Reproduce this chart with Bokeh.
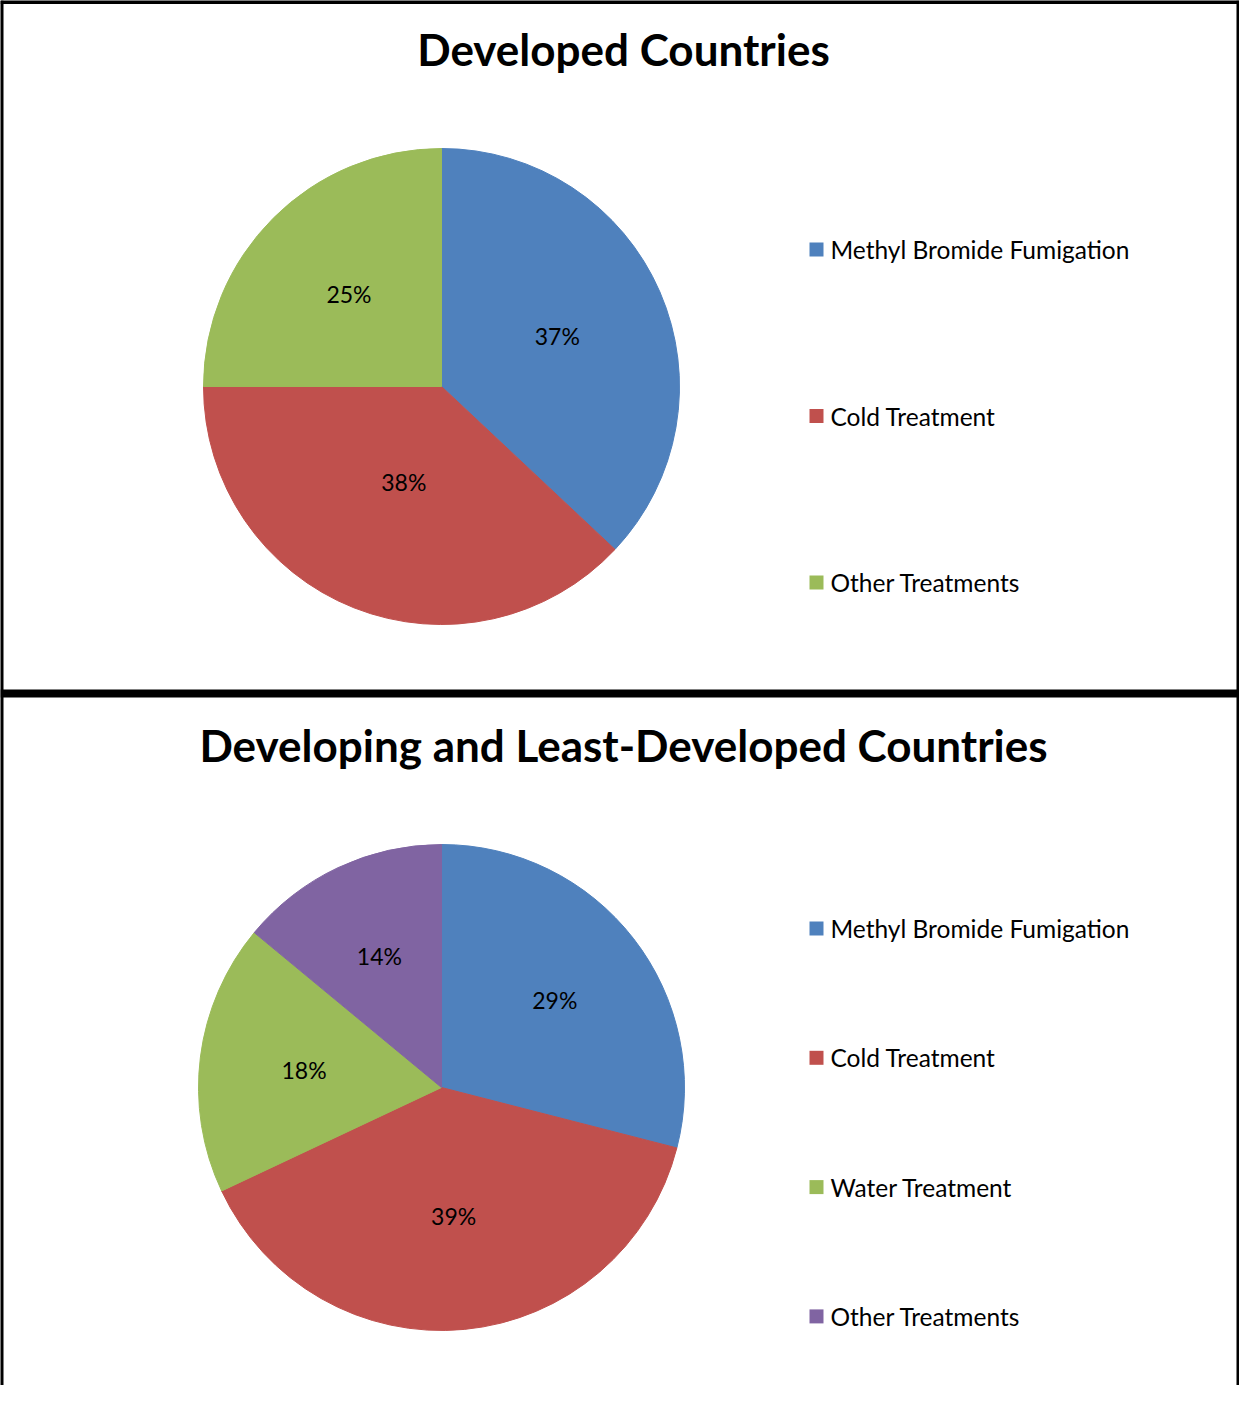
import math
from bokeh.plotting import figure
from bokeh.models import Range1d, ColumnDataSource
from bokeh.core.properties import value
from bokeh.embed import file_html
from bokeh.resources import INLINE

# ---------------- data ----------------
title1 = "Developed Countries"
cats1 = ["Methyl Bromide Fumigation", "Cold Treatment", "Other Treatments"]
vals1 = [37, 38, 25]

title2 = "Developing and Least-Developed Countries"
cats2 = ["Methyl Bromide Fumigation", "Cold Treatment", "Water Treatment", "Other Treatments"]
vals2 = [29, 39, 18, 14]

colors1 = ["#4F81BD", "#C0504D", "#9BBB59"]
colors2 = ["#4F81BD", "#C0504D", "#9BBB59", "#8064A2"]

# label distance from centre, as a fraction of the radius (layout only)
lab_frac1 = [0.53, 0.43, 0.55]
lab_frac2 = [0.59, 0.53, 0.57, 0.60]

# ---------------- layout (page pixel coords of the reference) ----------------
PAGE_H = 1401
W, H = 1239, 1385
FONT = "Lato"


def fy(ry):
    return PAGE_H - ry


p = figure(width=W, height=H, output_backend="svg", toolbar_location=None,
           x_range=Range1d(8, 8 + W), y_range=Range1d(fy(8 + H), fy(8)),
           min_border=0, x_axis_location=None, y_axis_location=None,
           tools="")
p.grid.visible = False
p.outline_line_color = None
p.background_fill_color = "white"
p.border_fill_color = "white"

# panel borders
p.line(x=[9, 9], y=[fy(8), fy(1401)], line_color="black", line_width=4)
p.line(x=[1246, 1246], y=[fy(8), fy(1401)], line_color="black", line_width=4)
p.line(x=[8, 1247], y=[fy(9.5), fy(9.5)], line_color="black", line_width=4)
p.line(x=[8, 1247], y=[fy(701), fy(701)], line_color="black", line_width=8)


def draw_pie(title, cats, vals, colors, fracs, cx, cy, r, title_y, leg_y0, leg_dy):
    total = float(sum(vals))
    starts, ends, lx, ly, labels = [], [], [], [], []
    cum = 0.0
    for v, f in zip(vals, fracs):
        a0 = math.pi / 2 - 2 * math.pi * cum / total
        cum += v
        a1 = math.pi / 2 - 2 * math.pi * cum / total
        starts.append(a1)
        ends.append(a0)
        mid = (a0 + a1) / 2
        lx.append(cx + f * r * math.cos(mid))
        ly.append(fy(cy) + f * r * math.sin(mid))
        labels.append(f"{v}%")
    src = ColumnDataSource(dict(start=starts, end=ends, color=colors))
    p.wedge(x=cx, y=fy(cy), radius=r, start_angle="start", end_angle="end",
            direction="anticlock", fill_color="color", line_color="color",
            line_width=1, source=src)
    p.text(x=lx, y=ly, text=labels, text_align="center", text_baseline="middle",
           text_font=value(FONT), text_font_size="23px", text_color="black")
    # title
    p.text(x=[631], y=[fy(title_y)], text=[title], text_align="center",
           text_baseline="middle", text_font=value(FONT), text_font_size="44px",
           text_font_style="bold", text_color="black")
    # legend
    ys = [fy(leg_y0 + i * leg_dy) for i in range(len(cats))]
    p.rect(x=[824] * len(cats), y=ys, width=14, height=14, fill_color=colors,
           line_color=None)
    p.text(x=[838] * len(cats), y=ys, text=cats, text_align="left",
           text_baseline="middle", text_font=value(FONT), text_font_size="24.5px",
           text_color="black")


draw_pie(title1, cats1, vals1, colors1, lab_frac1, 449, 394, 238, 56, 257, 166.5)
draw_pie(title2, cats2, vals2, colors2, lab_frac2, 449, 1095, 243, 752, 936, 129.3)

open("out.html", "w").write(file_html(p, INLINE))
